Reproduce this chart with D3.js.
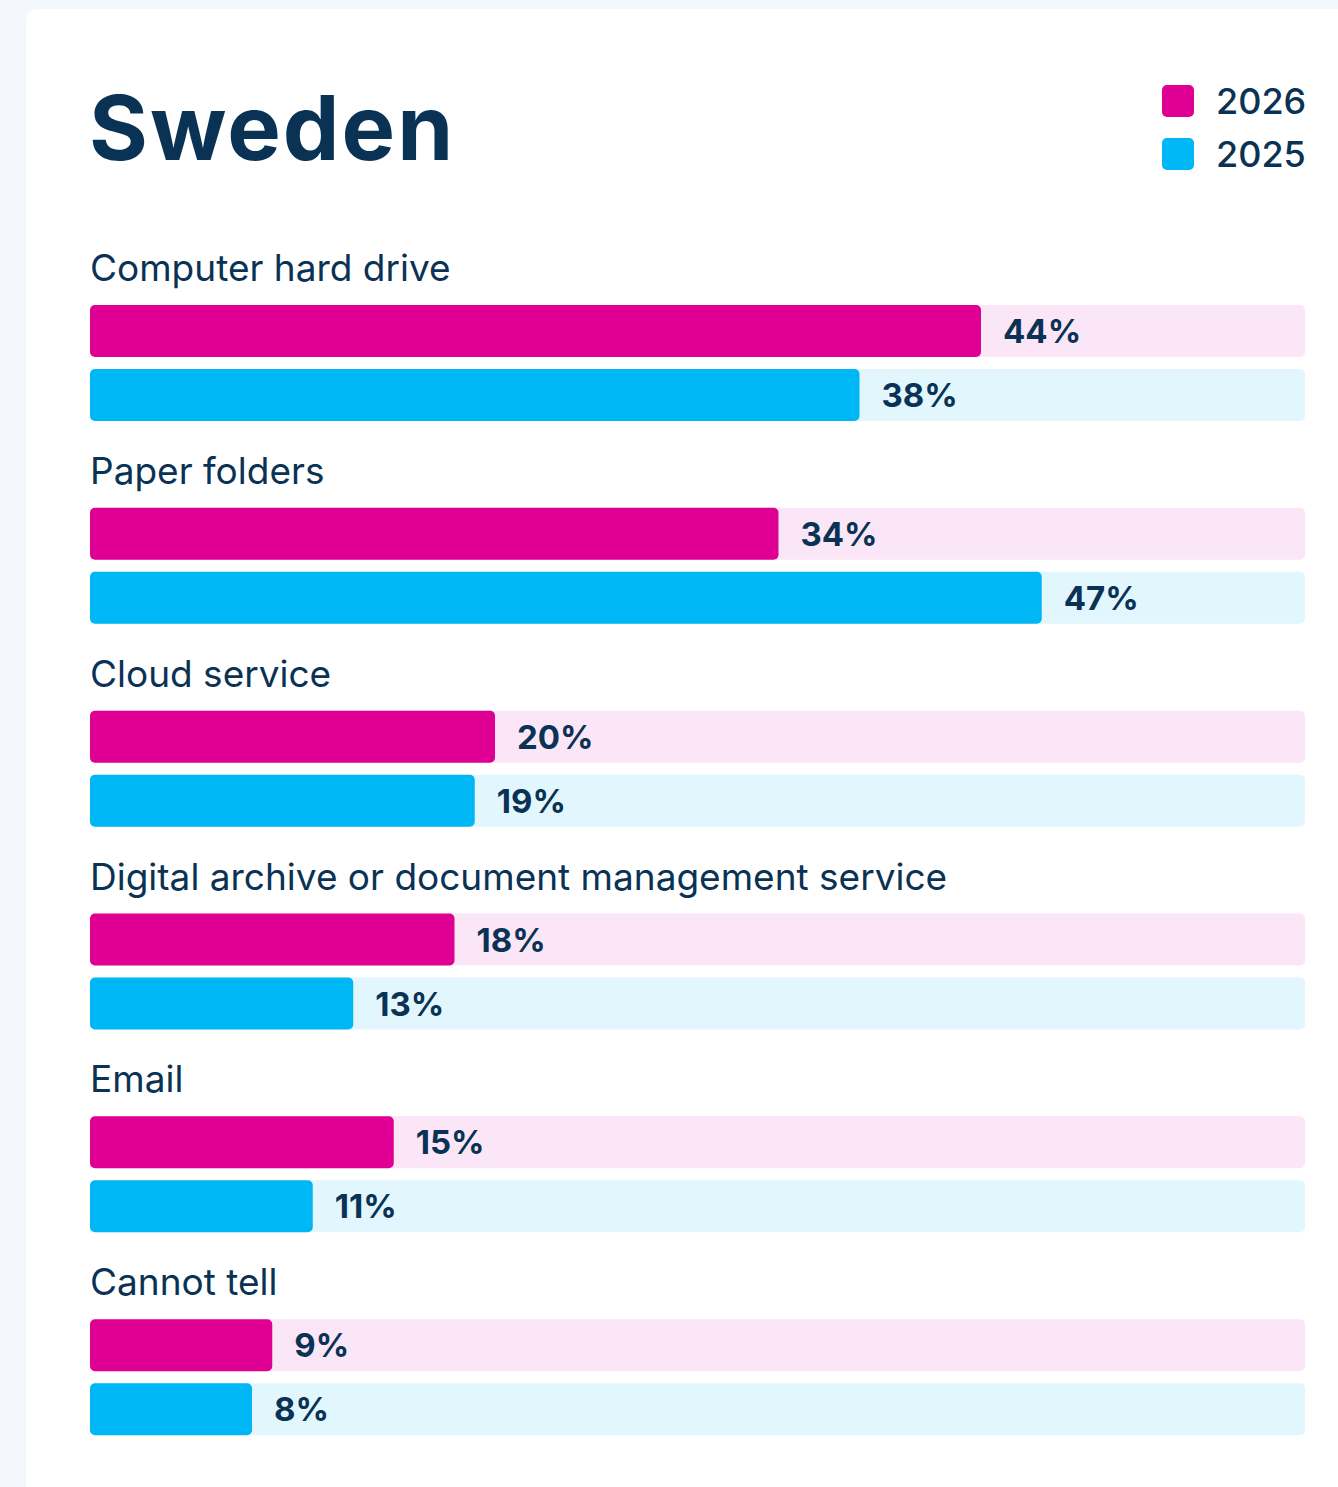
<!DOCTYPE html>
<html>
<head>
<meta charset="utf-8">
<script src="https://cdn.jsdelivr.net/npm/d3@7"></script>
<style>
  html, body { margin: 0; padding: 0; background: #f4f8fc; }
  svg { display: block; font-family: Inter, "Noto Sans", sans-serif; }
</style>
</head>
<body>
<svg id="chart" width="1338" height="1487"></svg>
<script>
// data
const categories = [
  'Computer hard drive',
  'Paper folders',
  'Cloud service',
  'Digital archive or document management service',
  'Email',
  'Cannot tell'
];
const years = ['2026', '2025'];
const values2026 = [44, 34, 20, 18, 15, 9];
const values2025 = [38, 47, 19, 13, 11, 8];

const colors = { '2026': '#df0093', '2025': '#00b7f5' };
const tracks = { '2026': '#fbe6f7', '2025': '#e2f6fe' };
const ink = '#0a3254';

const svg = d3.select('#chart');

// card
svg.append('rect')
  .attr('x', 26).attr('y', 9)
  .attr('width', 1340).attr('height', 1500)
  .attr('rx', 12)
  .attr('fill', '#fff');

// title
svg.append('text')
  .attr('x', 89).attr('y', 160)
  .attr('font-size', 90)
  .attr('font-weight', 700)
  .attr('letter-spacing', 2)
  .attr('fill', ink)
  .text('Sweden');

// legend
const legend = svg.append('g');
years.forEach((yr, i) => {
  const g = legend.append('g').attr('transform', `translate(1162,${85 + i * 53})`);
  g.append('rect').attr('width', 32).attr('height', 32).attr('rx', 5).attr('fill', colors[yr]);
  g.append('text')
    .attr('x', 54).attr('y', 29)
    .attr('font-size', 36).attr('font-weight', 500)
    .attr('fill', ink)
    .text(yr);
});

// scales
const x = d3.scaleLinear().domain([0, 60]).range([90, 1305]);
const groupY = d3.scaleBand().domain(categories).range([240, 1457]).paddingInner(0);
const barH = 52;

const rows = categories.map((c, i) => ({
  cat: c,
  bars: [
    { year: '2026', value: values2026[i] },
    { year: '2025', value: values2025[i] }
  ]
}));

const groups = svg.selectAll('g.group')
  .data(rows)
  .join('g')
  .attr('class', 'group')
  .attr('transform', d => `translate(0,${groupY(d.cat)})`);

groups.append('text')
  .attr('x', 90).attr('y', 41)
  .attr('font-size', 37)
  .attr('fill', ink)
  .text(d => d.cat);

const bar = groups.selectAll('g.bar')
  .data(d => d.bars)
  .join('g')
  .attr('class', 'bar')
  .attr('transform', (d, i) => `translate(0,${65 + i * 64})`);

bar.append('rect')
  .attr('x', x(0)).attr('width', x(60) - x(0))
  .attr('height', barH).attr('rx', 5)
  .attr('fill', d => tracks[d.year]);

bar.append('rect')
  .attr('x', x(0)).attr('width', d => x(d.value) - x(0))
  .attr('height', barH).attr('rx', 5)
  .attr('fill', d => colors[d.year]);

bar.append('text')
  .attr('x', d => x(d.value) + 22)
  .attr('y', barH / 2 + 12)
  .attr('font-size', 33)
  .attr('font-weight', 700)
  .attr('fill', ink)
  .text(d => d.value + '%');
</script>
</body>
</html>
